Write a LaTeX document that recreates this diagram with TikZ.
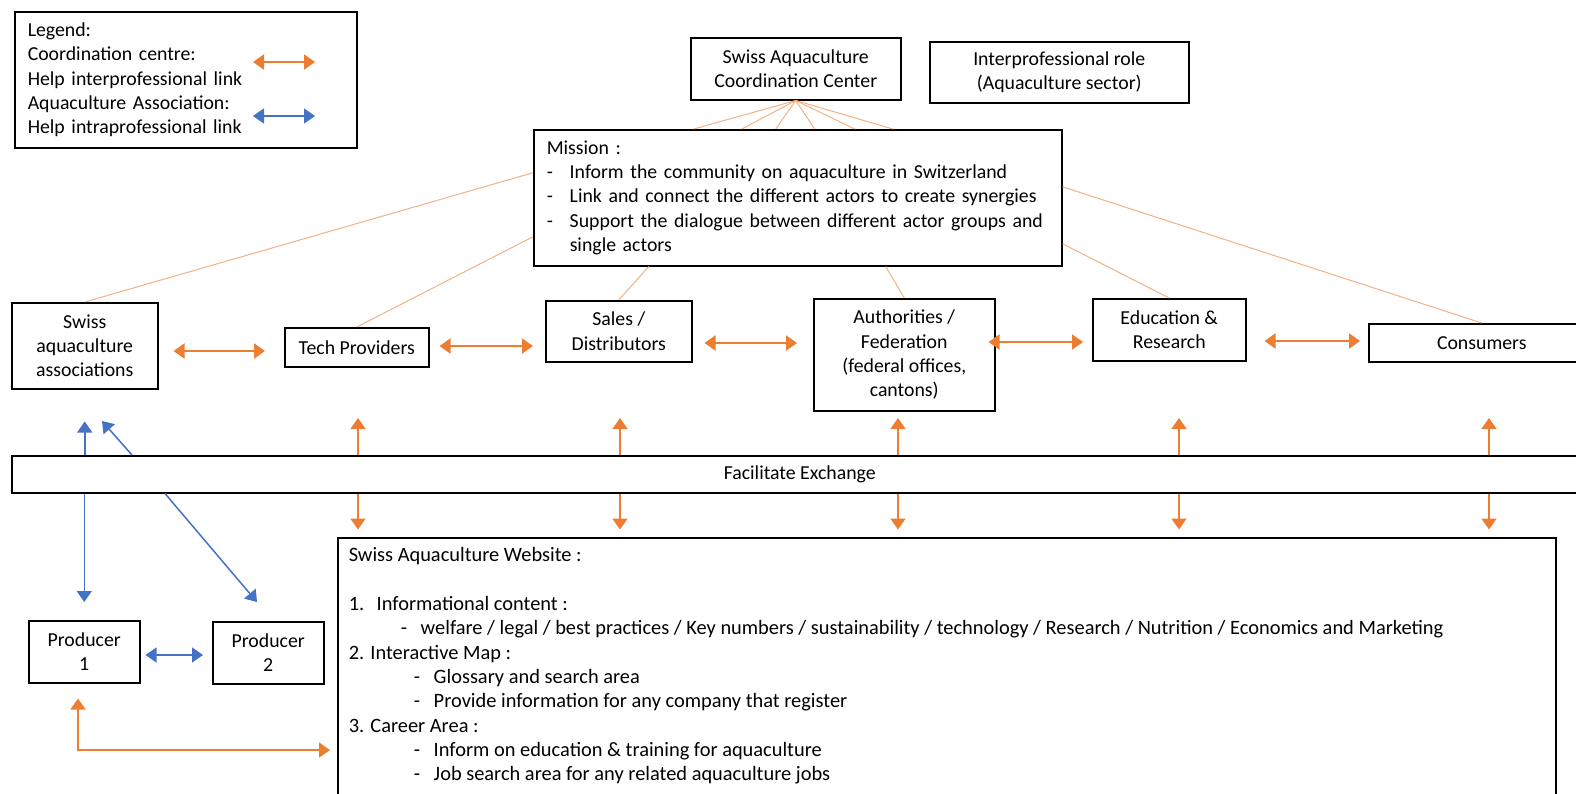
\documentclass[tikz,border=0pt]{standalone}
\usepackage{fontspec}
\setmainfont{Carlito}
\usetikzlibrary{arrows.meta}
\definecolor{coordorange}{RGB}{237,125,49}
\definecolor{assocblue}{RGB}{68,114,196}
\definecolor{linkorange}{RGB}{244,177,131}

\begin{document}
\begin{tikzpicture}[x=1pt, y=-1pt,
    every node/.style={font=\fontsize{19.8}{24.3}\selectfont},
    box/.style={draw=black, line width=1.5pt, fill=white, inner sep=0pt, align=center, anchor=north west},
    link/.style={linkorange, line width=1pt},
    inter/.style={coordorange, line width=2pt, {Triangle[length=11pt,width=15pt]}-{Triangle[length=11pt,width=15pt]}},
    interup/.style={coordorange, line width=1.5pt, -{Triangle[length=11pt,width=15pt]}},
    intra/.style={assocblue, line width=1.5pt, {Triangle[length=11pt,width=15pt]}-{Triangle[length=11pt,width=15pt]}},
    intraup/.style={assocblue, line width=1.5pt, -{Triangle[length=11pt,width=15pt]}}
]
    \useasboundingbox[fill=white] (0,0) rectangle (1576,793);

    % Legend
    \node[box, minimum width=342pt, minimum height=136pt, text width=316pt, inner xsep=13pt, align=left] (legend) at (14,11)
        {Legend:\\Coordination centre:\\Help interprofessional link\\Aquaculture Association:\\Help intraprofessional link};
    \draw[inter] ([shift={(239,51)}]legend.north west) -- ++(62,0);
    \draw[intra] ([shift={(239,105)}]legend.north west) -- ++(62,0);

    % Coordination center and its mission
    \node[box, minimum width=210pt, minimum height=62pt] (coord) at (690,37) {Swiss Aquaculture\\Coordination Center};
    \node[box, minimum width=259pt, minimum height=61pt] (interrole) at (929,41) {Interprofessional role\\(Aquaculture sector)};
    \node[box, minimum width=528pt, minimum height=136pt, text width=502pt, inner xsep=13pt, align=left] (mission) at (533,129)
        {Mission :\\
         \makebox[23pt][l]{-}Inform the community on aquaculture in Switzerland\\
         \makebox[23pt][l]{-}Link and connect the different actors to create synergies\\
         \makebox[23pt][l]{-}Support the dialogue between different actor groups and\\
         \hspace*{23pt}single actors};
    \foreach \dx in {-104,-56,-22,17,57,95}
        \draw[link] (coord.south) -- ([xshift=\dx pt]mission.north);

    % Actors
    \node[box, minimum width=146pt, minimum height=86pt] (assoc) at (11,302) {Swiss\\aquaculture\\associations};
    \node[box, minimum width=144pt, minimum height=39pt] (tech) at (284,327) {Tech Providers};
    \node[box, minimum width=146pt, minimum height=61pt] (sales) at (545,300) {Sales /\\Distributors};
    \node[box, minimum width=181pt, minimum height=112pt] (auth) at (813,298) {Authorities /\\Federation\\(federal offices,\\cantons)};
    \node[box, minimum width=153pt, minimum height=62pt] (edu) at (1092,298) {Education \&\\Research};
    \node[box, minimum width=226pt, minimum height=38pt] (cons) at (1368,323) {Consumers};

    % Mission to actors
    \draw[link] ([yshift=25pt]mission.west) -- (assoc.north);
    \draw[link] ([yshift=-39pt]mission.west) -- (tech.north);
    \draw[link] ([xshift=-149pt]mission.south) -- (sales.north);
    \draw[link] ([xshift=88pt]mission.south) -- (auth.north);
    \draw[link] ([yshift=-46pt]mission.east) -- (edu.north);
    \draw[link] ([yshift=11pt]mission.east) -- (cons.north);

    % Interprofessional links
    \draw[inter, shorten <=15pt, shorten >=19pt] (assoc.east |- 0,351) -- (tech.west |- 0,351);
    \draw[inter, shorten <=10pt, shorten >=12pt] (tech.east |- 0,346) -- (sales.west |- 0,346);
    \draw[inter, shorten <=12pt, shorten >=16pt] (sales.east |- 0,343) -- (auth.west |- 0,343);
    \draw[inter, shorten <=-7pt, shorten >=9pt] (auth.east |- 0,342) -- (edu.west |- 0,342);
    \draw[inter, shorten <=18pt, shorten >=8pt] (edu.east |- 0,341) -- (cons.west |- 0,341);

    % Exchange platform
    \node[box, minimum width=1576pt, minimum height=37pt] (fx) at (11,455) {Facilitate Exchange};
    \foreach \x in {358,620,898,1179,1489} {
        \draw[interup] (fx.north -| \x,0) -- ++(0,-37);
        \draw[interup] (fx.south -| \x,0) -- ++(0,36);
    }

    % Website
    \node[box, inner xsep=11pt, inner ysep=10pt, font=\fontsize{20.4}{24.3}\selectfont] (web) at (337,537)
        {\begin{minipage}[t][270pt][t]{1196pt}
         Swiss Aquaculture Website :\\[24.3pt]
         \makebox[28pt][l]{1.}Informational content :\\
         \hspace*{52pt}\makebox[20pt][l]{-}welfare / legal / best practices / Key numbers / sustainability / technology / Research / Nutrition / Economics and Marketing\\
         2. Interactive Map :\\
         \hspace*{65pt}\makebox[20pt][l]{-}Glossary and search area\\
         \hspace*{65pt}\makebox[20pt][l]{-}Provide information for any company that register\\
         3. Career Area :\\
         \hspace*{65pt}\makebox[20pt][l]{-}Inform on education \& training for aquaculture\\
         \hspace*{65pt}\makebox[20pt][l]{-}Job search area for any related aquaculture jobs
         \end{minipage}};

    % Producers
    \node[box, minimum width=111pt, minimum height=62pt] (prod1) at (28,620) {Producer\\1};
    \node[box, minimum width=111pt, minimum height=62pt] (prod2) at (212,621) {Producer\\2};

    % Intraprofessional links
    \draw[intraup, shorten >=32pt] (fx.north -| assoc.south) -- (assoc.south);
    \draw[intraup, shorten >=18pt] (fx.south -| prod1.north) -- (prod1.north);
    \coordinate (dtop) at (102,421);
    \coordinate (dbot) at (257,602);
    \draw[intraup] (fx.north -| 132,0) -- (dtop);
    \draw[intraup] (fx.south -| 165,0) -- (dbot);
    \draw[intra, shorten <=5pt, shorten >=9pt] (prod1.east |- 0,655) -- (prod2.west |- 0,655);

    % Producer to website
    \draw[coordorange, line width=1.5pt, {Triangle[length=11pt,width=15pt]}-{Triangle[length=11pt,width=15pt]}, shorten <=15pt, shorten >=7pt]
        (prod1.south -| 78,0) |- (web.west |- 0,750);
\end{tikzpicture}
\end{document}
